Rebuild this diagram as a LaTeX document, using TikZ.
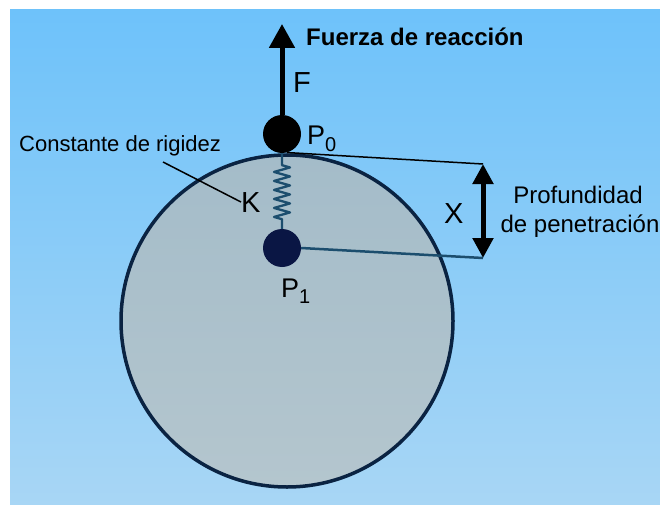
\documentclass[tikz,border=0pt]{standalone}
\usepackage{fontspec}
\setmainfont{Liberation Sans}
\usetikzlibrary{arrows.meta,decorations.pathmorphing}

\definecolor{skytop}{RGB}{110,194,250}
\definecolor{skybot}{RGB}{168,214,245}
\definecolor{bodytop}{RGB}{164,188,201}
\definecolor{bodybot}{RGB}{180,198,206}
\definecolor{rim}{RGB}{10,35,66}
\definecolor{springc}{RGB}{28,78,110}
\definecolor{navy}{RGB}{10,22,68}

\tikzset{
	ball/.style={circle,inner sep=0pt,minimum size=38pt},
	txt/.style={inner sep=0pt,font=\fontsize{24}{28}\selectfont},
	bigtxt/.style={inner sep=0pt,font=\fontsize{29}{30}\selectfont},
	ptxt/.style={inner sep=0pt,font=\fontsize{27}{30}\selectfont},
}
\newcommand{\lowidx}[1]{\raisebox{-6pt}{\fontsize{20}{20}\selectfont #1}}

\begin{document}
\begin{tikzpicture}[x=1pt,y=-1pt]
%
	\useasboundingbox (0,0) rectangle (660,505);
	\fill[white] (0,0) rectangle (660,505);
	\shade[top color=skytop,bottom color=skybot] (10,10) rectangle (660,505);
%
	\shadedraw[draw=rim,line width=3.5pt,top color=bodytop,bottom color=bodybot] (287,321) circle (166pt);
%
	\node[ball,fill=black] (p0) at (282,134) {};
	\node[ball,fill=navy] (p1) at (282,248) {};
	\coordinate (ftip) at (282,24);
	\coordinate (xtop) at (483,164);
	\coordinate (xbot) at (483,258);
	\coordinate (kend) at (163,162);
%
	\draw[springc,line width=2.3pt,line join=round,decorate,
		decoration={zigzag,segment length=9pt,amplitude=8pt,pre length=12pt,post length=9pt}]
		(p0.south) -- (p1.north);
	\draw[line width=5pt,-{Triangle[width=25pt,length=24pt]}] (p0.north) -- (ftip);
	\draw[line width=1.5pt] (p0.-75) -- (xtop);
	\draw[springc,line width=2.5pt] (p1.east) -- (xbot);
	\draw[line width=5pt,{Triangle[width=20pt,length=20pt]}-{Triangle[width=20pt,length=20pt]}] (xtop) -- (xbot);
%
	\node[txt,font=\bfseries\fontsize{24}{28}\selectfont,anchor=base west] (fuerza) at (306,46) {Fuerza de reacción};
	\node[bigtxt,anchor=base west] (f) at (293,93) {F};
	\node[ptxt,anchor=base west] (l0) at (307,145) {P\lowidx{0}};
	\node[ptxt,anchor=base west] (l1) at (281,297) {P\lowidx{1}};
	\node[bigtxt,anchor=base west] (k) at (241,212) {K};
	\node[bigtxt,anchor=base west] (x) at (444,223) {X};
	\node[txt,font=\fontsize{22}{26}\selectfont,anchor=base west] (rig) at (19,152) {Constante de rigidez};
	\node[txt,anchor=base] (prof) at (578,203) {Profundidad};
	\node[txt,anchor=base] (pen) at (580,232) {de penetración};
%
	\draw[line width=1.5pt] (kend) -- (k.west);
\end{tikzpicture}
\end{document}
